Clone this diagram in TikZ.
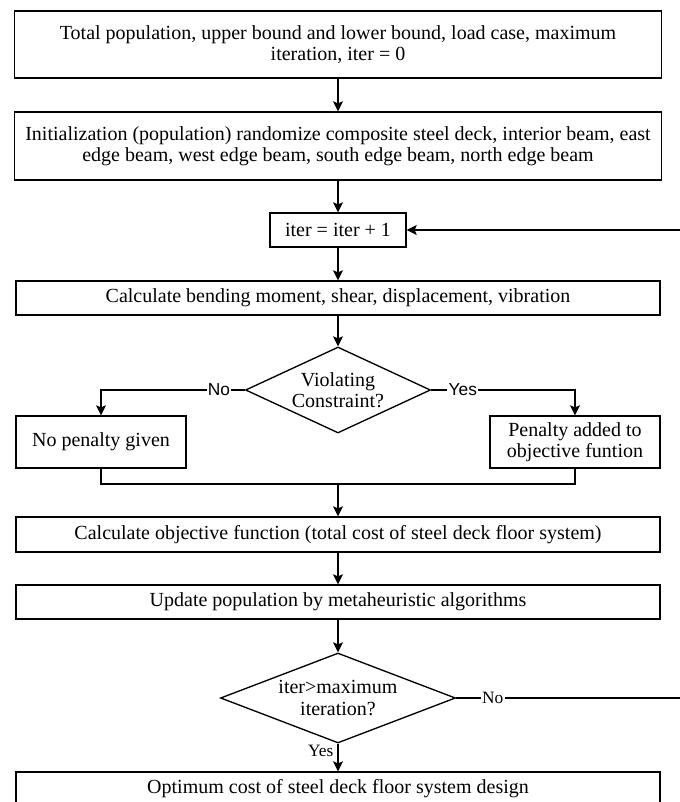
\documentclass[tikz,border=0pt]{standalone}
\usepackage{fontspec}
\setmainfont{Liberation Serif}
\setsansfont{Liberation Sans}
\usetikzlibrary{arrows.meta,shapes.geometric}

\begin{document}
\begin{tikzpicture}[x=0.75pt,y=-0.75pt,line width=1pt]
\tikzset{block/.style = {shape=rectangle,draw,align=center,inner sep=2pt,font=\fontsize{15}{15.8}\selectfont}}
\tikzset{decision/.style = {shape=diamond,draw,align=center,inner sep=0pt,font=\fontsize{15}{15.8}\selectfont}}
\tikzset{edge/.style = {->,> = {Stealth[length=7.5pt,width=7.5pt,inset=1.5pt]}}}
\tikzset{answer/.style = {fill=white,inner sep=1pt,font=\sffamily\fontsize{13}{14}\selectfont}}

\useasboundingbox (0,0) rectangle (680,802);
\clip (0,0) rectangle (680,802);

\node[block,minimum width=485pt,minimum height=50.25pt] (input) at (338,44.5) {Total population, upper bound and lower bound, load case, maximum\\iteration, iter = 0};
\node[block,minimum width=485pt,minimum height=51pt] (init) at (338,146) {Initialization (population) randomize composite steel deck, interior beam, east\\edge beam, west edge beam, south edge beam, north edge beam};
\node[block,minimum width=102pt,minimum height=25.5pt] (iter) at (338,230) {iter = iter + 1};
\node[block,minimum width=483pt,minimum height=25.5pt] (calc) at (338,298) {Calculate bending moment, shear, displacement, vibration};
\node[decision,aspect=2.15,minimum width=138.75pt,minimum height=64.5pt] (viol) at (338,390) {Violating\\Constraint?};
\node[block,minimum width=127.5pt,minimum height=39pt] (nopen) at (101,442) {No penalty given};
\node[block,minimum width=127.5pt,minimum height=39pt] (pen) at (575,442) {Penalty added to\\objective funtion};
\node[block,minimum width=483pt,minimum height=26.25pt] (obj) at (338,534.5) {Calculate objective function (total cost of steel deck floor system)};
\node[block,minimum width=483pt,minimum height=25.5pt] (update) at (338,602) {Update population by metaheuristic algorithms};
\node[decision,aspect=2.6,minimum width=176.25pt,minimum height=67.5pt] (maxit) at (338,698) {iter>maximum\\iteration?};
\node[block,minimum width=483pt,minimum height=25.5pt] (final) at (338,789) {Optimum cost of steel deck floor system design};

\coordinate (join) at (338,484);
\coordinate (back) at (700,698);

\draw[edge] (input) to (init);
\draw[edge] (init) to (iter);
\draw[edge] (iter) to (calc);
\draw[edge] (calc) to (viol);
\draw[edge] (viol.west) -| node[answer,pos=0.09] {No} (nopen.north);
\draw[edge] (viol.east) -| node[answer,pos=0.11] {Yes} (pen.north);
\draw (nopen.south) |- (join) -| (pen.south);
\draw[edge] (join) to (obj);
\draw[edge] (obj) to (update);
\draw[edge] (update) to (maxit);
\draw[edge] (maxit) to node[left,pos=0.25,inner sep=3pt,font=\fontsize{13}{14}\selectfont] {Yes} (final);
\draw[edge] (maxit.east) -- node[fill=white,inner sep=1pt,pos=0.15,font=\fontsize{13}{14}\selectfont] {No} (back) |- (iter.east);
\end{tikzpicture}
\end{document}
